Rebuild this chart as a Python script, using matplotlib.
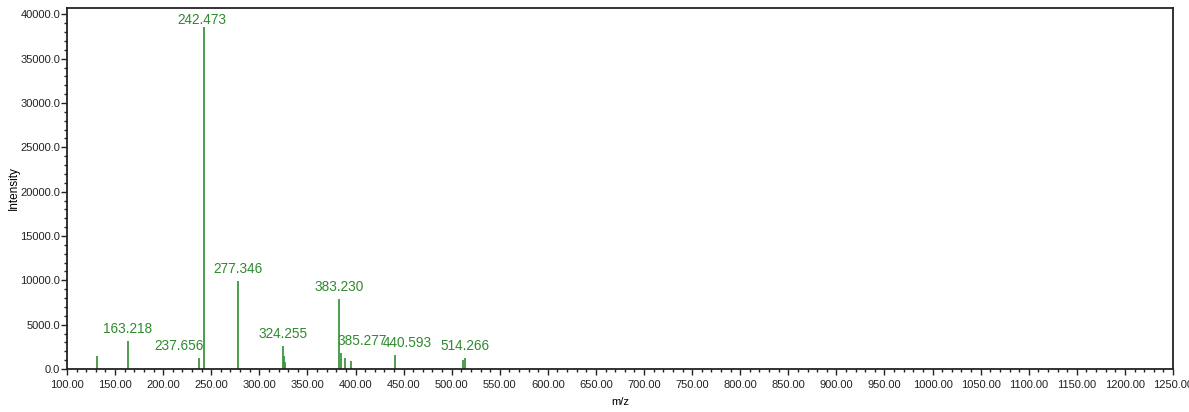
#!/usr/bin/env python3

import matplotlib
matplotlib.use("Agg")
import matplotlib.pyplot as plt
from matplotlib.ticker import MultipleLocator, FormatStrFormatter

# peak list (m/z, intensity)
mz = [130.9, 163.218, 237.656, 242.473, 277.346, 324.255, 325.3, 327.0,
      383.230, 385.277, 389.1, 395.0, 440.593, 511.5, 514.266]
intensity = [1500, 3170, 1230, 38600, 9880, 2550, 1420, 750,
             7930, 1800, 1240, 940, 1530, 1050, 1240]

# annotated peaks
label_mz = [163.218, 237.656, 242.473, 277.346, 324.255, 383.230, 385.277, 440.593, 514.266]
label_int = [3170, 1230, 38600, 9880, 2550, 7930, 1800, 1530, 1240]
label_text = ["163.218", "237.656", "242.473", "277.346", "324.255",
              "383.230", "385.277", "440.593", "514.266"]
label_dx = [0, -20, -2, 0, 0, 0, 21, 13, 0]
label_dy = [5, 5, 0, 5, 5, 5, 5, 5, 5]

plt.rcParams["font.family"] = ["Liberation Sans", "DejaVu Sans"]

def main():
    fig = plt.figure(figsize=(11.89, 4.12), dpi=100)
    ax = fig.add_axes([67 / 1189, 1 - 369 / 412, (1173 - 67) / 1189, (369 - 8) / 412])

    ax.vlines(mz, 0, intensity, color="#3f963f", linewidth=1.3)

    for x, y, t, dx, dy in zip(label_mz, label_int, label_text, label_dx, label_dy):
        ax.annotate(t, (x, y), xytext=(dx, dy), textcoords="offset pixels",
                    ha="center", va="bottom", color="#2f8a2f", fontsize=9.8)

    ax.set_xlim(100, 1250)
    ax.set_ylim(0, 40720)
    ax.xaxis.set_major_locator(MultipleLocator(50))
    ax.xaxis.set_minor_locator(MultipleLocator(10))
    ax.yaxis.set_major_locator(MultipleLocator(5000))
    ax.yaxis.set_minor_locator(MultipleLocator(1000))
    ax.xaxis.set_major_formatter(FormatStrFormatter("%.2f"))
    ax.yaxis.set_major_formatter(FormatStrFormatter("%.1f"))
    ax.tick_params(which="major", direction="out", length=4, width=1, labelsize=8, colors="#222222")
    ax.tick_params(which="minor", direction="out", length=2, width=1, colors="#222222")
    ax.tick_params(axis="x", which="major", pad=4)
    ax.tick_params(axis="y", which="major", pad=1)

    for s in ax.spines.values():
        s.set_linewidth(1.3)
        s.set_color("#222222")

    ax.set_ylabel("Intensity", fontsize=8.5)
    ax.yaxis.set_label_coords(-0.043, 0.5)
    ax.set_xlabel("m/z", fontsize=8, labelpad=5)

    plt.savefig("out.png", dpi=100)

main()
